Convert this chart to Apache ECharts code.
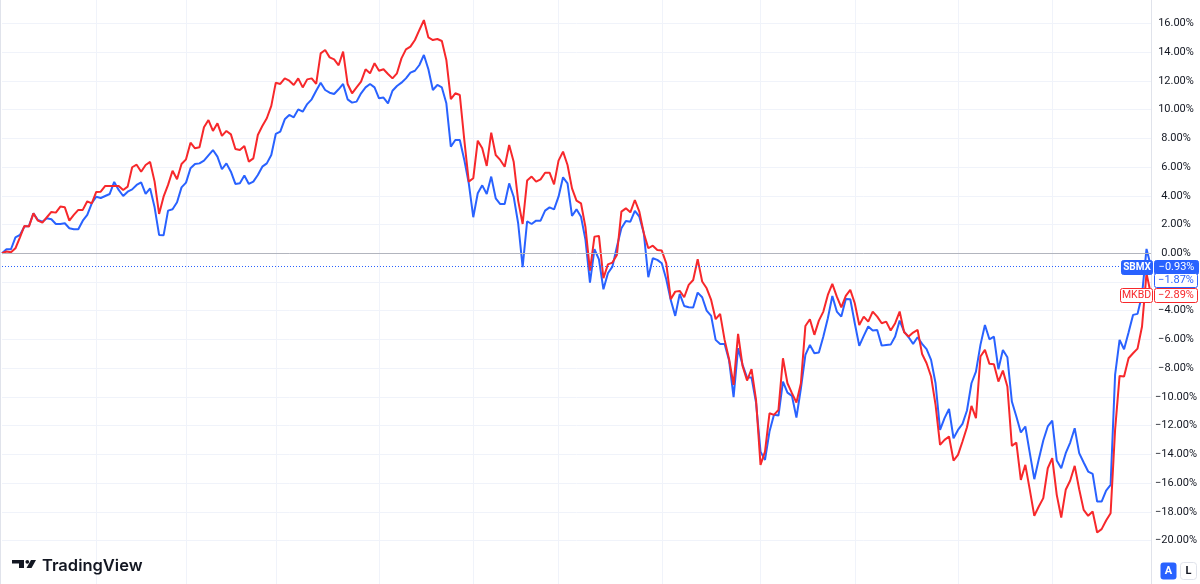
<!DOCTYPE html>
<html>
<head>
<meta charset="utf-8">
<script src="https://cdn.jsdelivr.net/npm/echarts@6/dist/echarts.min.js"></script>
<style>
html,body{margin:0;padding:0;background:#ffffff;}
#c{width:1200px;height:584px;}
</style>
</head>
<body>
<div id="c"></div>
<script>
// ---- DATA (percent change since start) ----
const sbmx = [
 0.00, 0.28, 0.28, 1.11, 1.28, 1.86, 1.90, 2.78, 2.32, 2.20,
 2.44, 2.37, 2.04, 2.04, 2.09, 1.74, 1.67, 1.67, 2.27, 2.67,
 3.48, 3.94, 3.85, 3.99, 4.13, 4.97, 4.41, 3.99, 4.29, 4.45,
 4.76, 4.94, 4.13, 4.52, 3.20, 1.28, 1.25, 2.97, 3.06, 3.55,
 4.59, 4.92, 5.92, 6.22, 6.26, 6.45, 6.82, 7.19, 6.73, 5.85,
 6.26, 5.68, 4.83, 4.87, 5.41, 4.83, 4.99, 5.45, 6.03, 6.26,
 6.84, 8.31, 8.47, 9.33, 9.63, 9.47, 10.02, 9.86, 10.39, 10.72,
 11.32, 11.88, 11.37, 11.18, 11.09, 11.42, 11.79, 10.72, 10.49, 10.56,
 11.14, 11.55, 11.79, 11.55, 10.79, 10.84, 10.44, 11.32, 11.65, 11.88,
 12.18, 12.58, 12.71, 13.11, 13.81, 12.81, 11.37, 11.72, 11.55, 10.44,
 7.42, 7.89, 7.89, 6.50, 4.87, 2.51, 4.18, 4.73, 4.13, 5.34,
 3.83, 3.43, 3.43, 4.87, 3.94, 2.09, -0.97, 2.23, 2.04, 2.27,
 2.27, 2.97, 3.20, 3.06, 3.94, 5.29, 4.87, 2.60, 3.06, 2.55,
 0.93, -2.04, 0.28, -0.42, -2.51, -1.39, -0.93, 0.46, 1.74, 2.25,
 2.20, 2.95, 2.55, 1.39, -1.67, -0.35, -0.46, -0.70, -1.81, -3.25,
 -4.36, -2.83, -3.67, -3.76, -3.78, -2.74, -3.06, -3.99, -4.36, -6.03,
 -6.31, -6.31, -7.47, -10.02, -6.61, -7.77, -8.65, -8.65, -10.39, -13.81,
 -14.39, -12.41, -11.25, -11.30, -8.93, -9.70, -9.93, -11.44, -9.40, -7.08,
 -6.38, -6.96, -6.91, -5.80, -4.52, -2.97, -4.06, -4.41,
 -3.18, -3.20, -4.87, -6.45, -5.75, -5.10, -5.38, -5.34, -6.43, -6.38,
 -6.36, -5.80, -4.69, -5.45, -5.85, -6.31, -5.85, -6.31, -6.68, -7.42,
 -9.05, -12.30, -11.48, -10.84, -12.88, -12.30, -11.88, -10.95, -9.05, -8.24,
 -6.38, -4.99, -5.99, -5.80, -8.07, -6.73, -7.24, -10.32, -11.37, -12.48,
 -12.06, -13.92, -15.73, -14.34, -13.04, -12.06, -11.65, -14.43, -14.97, -13.92,
 -13.18, -12.18, -13.92, -14.57, -15.20, -15.36, -17.29, -17.29, -16.52, -16.13,
 -8.47, -6.03, -6.68, -5.52, -4.29, -4.22, -2.90, 0.30, -0.93
];
const mkbd = [
 0.00, 0.12, 0.07, 0.35, 1.11, 1.90, 1.86, 2.78, 2.27, 2.13,
 2.51, 2.88, 2.83, 3.25, 3.20, 2.27, 2.67, 3.02, 3.02, 3.62,
 3.48, 4.27, 4.29, 4.69, 4.69, 4.69, 4.69, 4.41, 4.64, 5.99,
 6.17, 5.68, 6.15, 6.36, 4.99, 2.74, 3.94, 4.76, 5.75, 5.15,
 6.22, 6.54, 7.70, 7.31, 7.38, 8.77, 9.28, 8.52, 9.05, 8.17,
 8.52, 8.28, 7.26, 7.19, 7.47, 6.38, 6.61, 8.24, 8.86, 9.40,
 10.26, 11.88, 11.79, 12.18, 12.02, 11.72, 12.18, 11.55, 12.11, 12.18,
 11.79, 13.92, 14.15, 13.64, 13.50, 13.09, 14.04, 11.79, 11.14, 11.55,
 11.95, 12.81, 12.53, 13.23, 12.71, 12.81, 12.48, 12.18, 12.53, 13.57,
 14.20, 14.39, 14.85, 15.55, 16.24, 15.03, 14.85, 14.92, 14.78, 13.46,
 10.74, 11.14, 11.02, 7.89, 4.99, 5.22, 7.84, 7.31, 6.08, 8.40,
 6.84, 6.50, 6.03, 7.54, 6.38, 3.67, 2.04, 5.06, 5.34, 4.99,
 5.15, 5.61, 5.61, 4.80, 6.45, 7.08, 6.15, 4.52, 3.67, 3.48,
 1.81, -1.21, 1.16, 1.21, -1.74, -0.77, -0.65, -0.12, 2.90, 3.13,
 2.85, 3.71, 2.90, 1.39, 0.35, 0.53, 0.23, 0.19, -0.70, -3.20,
 -2.67, -2.62, -3.06, -2.20, -1.86, -0.42, -1.97, -2.44, -3.25, -4.59,
 -4.22, -6.03, -7.38, -9.16, -5.61, -7.84, -8.86, -8.07, -10.21, -14.73,
 -13.81, -11.14, -11.25, -10.90, -7.31, -9.05, -9.74, -10.39, -9.05, -5.06,
 -4.59, -5.68, -4.69, -4.06, -2.90, -2.13, -3.02, -3.76,
 -2.97, -2.55, -3.48, -4.99, -4.41, -4.76, -4.06, -4.41, -4.87, -4.76,
 -5.38, -4.87, -4.06, -5.50, -5.80, -5.52, -5.34, -7.01, -7.66, -8.58,
 -10.56, -13.34, -12.99, -12.76, -14.43, -14.04, -13.11, -12.11, -10.63, -11.48,
 -7.19, -6.73, -7.70, -7.73, -8.93, -8.17, -9.28, -13.41, -13.18, -15.78,
 -14.73, -16.47, -18.28, -17.63, -17.05, -14.97, -14.27, -16.82, -18.40, -16.47,
 -15.82, -14.80, -16.43, -17.87, -18.28, -17.98, -19.44, -19.21, -18.61, -18.10,
 -12.30, -8.54, -8.58, -7.31, -6.96, -6.64, -5.10, -1.40, -2.89
];
// trading-day categories and the indices where a new month starts (vertical grid lines)
const days = sbmx.map(function (_, i) { return 'D' + (i + 1); });
const monthStarts = [21, 41, 61, 84, 105, 124, 147, 169, 190, 213, 234];
// price-scale ticks (percent)
const yMin = -20, yMax = 16, yStep = 2;
// last-value badges
const badges = [
  { name: 'SBMX', value: -0.93, kind: 'solid', color: '#2962ff' },
  { name: '',     value: -1.87, kind: 'outline', color: '#2962ff' },
  { name: 'MKBD', value: -2.89, kind: 'outline', color: '#f7282b' }
];

// ---- CHART ----
const BLUE = '#2962ff', RED = '#f7282b', GRID = '#f0f3fa', TEXT = '#131722';
const FONT = 'Roboto, "DejaVu Sans", sans-serif';
const fmt = function (v) { return (v < 0 ? '\u2212' : '') + Math.abs(v).toFixed(2) + '%'; };

const chart = echarts.init(document.getElementById('c'), null, { renderer: 'canvas' });
chart.setOption({
  animation: false,
  backgroundColor: '#ffffff',
  grid: [
    { left: 2, right: 49, top: 23.5, bottom: 43.5 },
    { left: 2, right: 49, top: 0, bottom: 0 }
  ],
  xAxis: [
    { gridIndex: 0, type: 'category', data: days, boundaryGap: false, show: false },
    { gridIndex: 1, type: 'category', data: days, boundaryGap: false,
      axisLine: { show: false }, axisTick: { show: false }, axisLabel: { show: false },
      splitLine: { show: true, interval: function (i) { return monthStarts.indexOf(i) >= 0; },
        lineStyle: { color: GRID, width: 1 } } }
  ],
  yAxis: [
    { gridIndex: 0, type: 'value', position: 'right', min: yMin, max: yMax, interval: yStep,
      axisLine: { show: false }, axisTick: { show: false },
      axisLabel: { margin: 25, align: 'center', color: TEXT, fontSize: 11, fontFamily: FONT,
        formatter: function (v) {
          for (const b of badges) { if (Math.abs(b.value - v) < 0.5) return ''; }
          return fmt(v);
        } },
      splitLine: { show: true, lineStyle: { color: GRID, width: 1 } } },
    { gridIndex: 1, type: 'value', position: 'right', min: 0, max: 1,
      axisLine: { show: true, lineStyle: { color: '#e0e3eb', width: 1 } },
      axisTick: { show: false }, axisLabel: { show: false }, splitLine: { show: false } }
  ],
  series: [
    { name: 'SBMX', type: 'line', xAxisIndex: 0, yAxisIndex: 0, data: sbmx,
      showSymbol: false, clip: false, lineStyle: { color: BLUE, width: 2 }, itemStyle: { color: BLUE },
      markLine: { silent: true, symbol: 'none', label: { show: false },
        data: [
          { yAxis: 0, lineStyle: { color: '#b2b5be', width: 1, type: 'solid' } },
          { yAxis: badges[0].value, lineStyle: { color: BLUE, width: 1, type: [1, 2] } }
        ] } },
    { name: 'MKBD', type: 'line', xAxisIndex: 0, yAxisIndex: 0, data: mkbd,
      showSymbol: false, clip: false, lineStyle: { color: RED, width: 2 }, itemStyle: { color: RED } }
  ]
});

// ---- badges, watermark and buttons (positioned via the axis scale) ----
const g = [];
function box(x, w, yc, fill, stroke) {
  g.push({ type: 'rect', z: 100, shape: { x: x, y: Math.round(yc - 7) + 0.5, width: w, height: 14, r: 2 },
    style: { fill: fill, stroke: stroke, lineWidth: 1 } });
}
function txt(x, y, t, color, size, weight, align) {
  g.push({ type: 'text', z: 101, style: { x: x, y: y, text: t, fill: color,
    font: (weight || 'normal') + ' ' + size + 'px ' + FONT, align: align || 'center', verticalAlign: 'middle' } });
}
badges.forEach(function (b) {
  const yc = chart.convertToPixel({ yAxisIndex: 0 }, b.value);
  if (b.kind === 'solid') {
    box(1121.5, 31, yc, b.color, b.color);
    txt(1137, yc + 0.5, b.name, '#ffffff', 10, 'bold');
    box(1154.5, 44, yc, b.color, b.color);
    txt(1176.5, yc + 0.5, fmt(b.value), '#ffffff', 11);
  } else {
    if (b.name) {
      box(1120.5, 32, yc, '#ffffff', b.color);
      txt(1136.5, yc + 0.5, b.name, b.color, 10.5);
    }
    box(1154.5, 43, yc, '#ffffff', b.color);
    txt(1176, yc + 0.5, fmt(b.value), b.color, 11);
  }
});
// left border
g.push({ type: 'line', z: 50, shape: { x1: 0.5, y1: 0, x2: 0.5, y2: 584 }, style: { stroke: '#e0e3eb', lineWidth: 1 } });
// TradingView logo
g.push({ type: 'polygon', z: 100, shape: { points: [[12, 560], [24, 560], [24, 568], [19, 568], [19, 563.5], [12, 563.5]] }, style: { fill: TEXT } });
g.push({ type: 'circle', z: 100, shape: { cx: 27.3, cy: 561.8, r: 1.9 }, style: { fill: TEXT } });
g.push({ type: 'polygon', z: 100, shape: { points: [[31, 560], [36, 560], [31.5, 568], [26.5, 568]] }, style: { fill: TEXT } });
g.push({ type: 'text', z: 100, style: { x: 42, y: 566, text: 'TradingView', fill: TEXT,
  font: '600 16.5px Inter, Roboto, sans-serif', align: 'left', verticalAlign: 'middle' } });
// A / L buttons
g.push({ type: 'rect', z: 100, shape: { x: 1160.5, y: 562.5, width: 16, height: 17, r: 3 }, style: { fill: BLUE } });
txt(1168.5, 571.5, 'A', '#ffffff', 11, 'bold');
g.push({ type: 'rect', z: 100, shape: { x: 1180.5, y: 562.5, width: 16, height: 17, r: 3 }, style: { fill: '#ffffff', stroke: '#e0e3eb', lineWidth: 1 } });
txt(1188.5, 571.5, 'L', TEXT, 11, 'bold');

chart.setOption({ graphic: g });
</script>
</body>
</html>
